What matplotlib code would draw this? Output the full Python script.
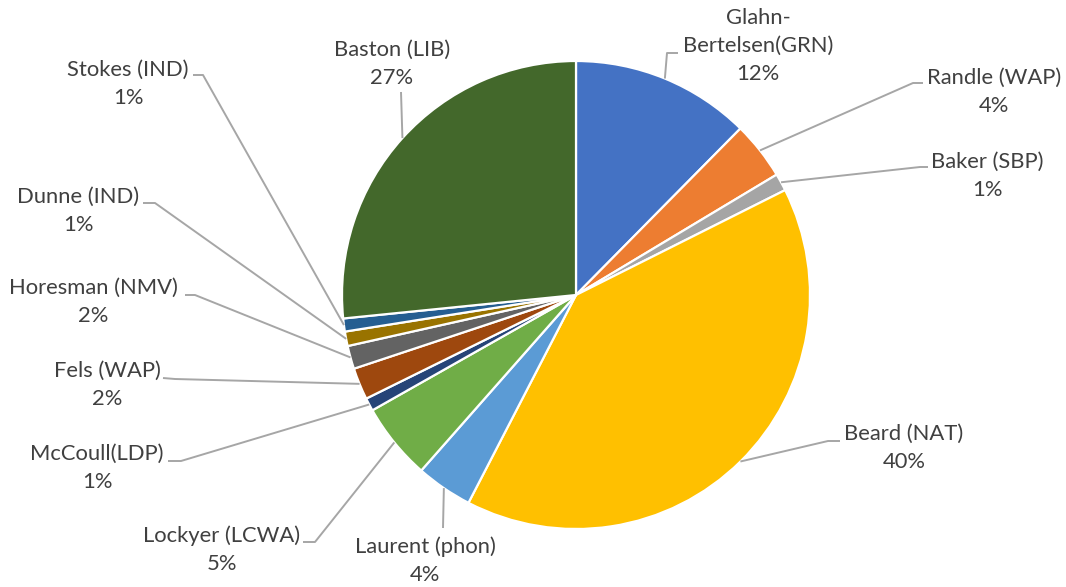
import numpy as np
import matplotlib.pyplot as plt

names = ["Glahn-\nBertelsen(GRN)", "Randle (WAP)", "Baker (SBP)", "Beard (NAT)",
         "Laurent (phon)", "Lockyer (LCWA)", "McCoull(LDP)", "Fels (WAP)",
         "Horesman (NMV)", "Dunne (IND)", "Stokes (IND)", "Baston (LIB)"]
shares = [12.4, 4.0, 1.2, 40.0, 3.9, 5.3, 0.9, 2.2, 1.6, 1.0, 0.9, 26.6]
colors = ["#4472C4", "#ED7D31", "#A5A5A5", "#FFC000", "#5B9BD5", "#70AD47",
          "#264478", "#9E480E", "#636363", "#997300", "#255E91", "#43682B"]

# layout in pixel coords (y down): label centre, leader elbow, leader end
label_xy = [(758, 46), (994, 92), (987, 176), (904, 448), (425, 561), (222, 550),
            (97, 468), (107, 385), (93, 302), (78, 211), (128, 84), (392, 64)]
elbow_xy = [(667, 53), (913, 83), (920, 167), (828, 441), (443, 528), (315, 542),
            (181, 461), (175, 379), (195, 295), (155, 203), (203, 75), (401, 92)]
end_xy = [(678, 53), (923, 83), (928, 167), (840, 441), None, (303, 542),
          (168, 461), (163, 378), (185, 295), (143, 203), (193, 75), None]

W, H = 1066, 587
cx, cy, R = 576, 295, 234

fig = plt.figure(figsize=(W / 100, H / 100), dpi=100)
ax = fig.add_axes([0, 0, 1, 1])

# y axis is flipped, so counterclock in data = clockwise on screen
wedges, _ = ax.pie(shares, colors=colors, startangle=270, counterclock=True,
                   center=(cx, cy), radius=R,
                   wedgeprops=dict(edgecolor="white", linewidth=1.6))
ax.set_xlim(0, W)
ax.set_ylim(H, 0)
ax.set_aspect("equal")
ax.axis("off")

for i, w in enumerate(wedges):
    mid = np.deg2rad((w.theta1 + w.theta2) / 2)
    ex, ey = cx + R * np.cos(mid), cy + R * np.sin(mid)
    xs, ys = [ex, elbow_xy[i][0]], [ey, elbow_xy[i][1]]
    if end_xy[i] is not None:
        xs.append(end_xy[i][0])
        ys.append(end_xy[i][1])
    ax.plot(xs, ys, color="#A6A6A6", lw=1.4, solid_capstyle="butt")
    txt = f"{names[i]}\n{round(shares[i])}%"
    ax.text(label_xy[i][0], label_xy[i][1], txt, ha="center", va="center",
            fontsize=15.8, family="Lato", color="#404040", linespacing=1.5)

fig.savefig("out.png", dpi=100)
